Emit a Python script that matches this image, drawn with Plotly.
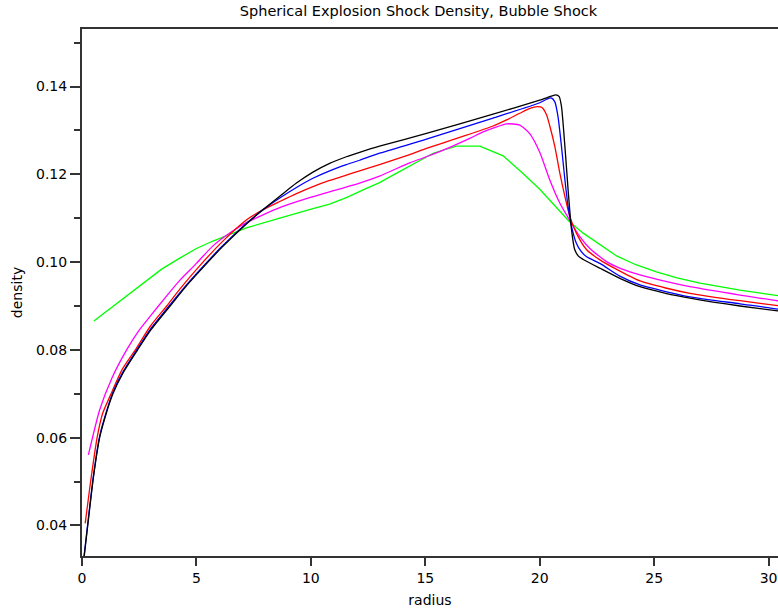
import plotly.graph_objects as go

# ---- data ----
black_x = [0.07, 0.25, 0.5, 0.77, 1.0, 1.35, 1.8, 2.43, 3.0, 3.85, 4.5, 5.08, 6.1, 7.18, 7.9, 8.64, 9.37, 10.09, 10.82, 11.55, 12.13, 13.0, 15.05, 17.96, 20.0, 20.5, 20.7, 20.85, 20.95, 21.1, 21.24, 21.39, 21.53, 21.7, 21.9, 22.63, 23.5, 24.38, 25.5, 26.56, 28.75, 30.4, 31.0]
black_y = [0.0318, 0.0400, 0.0510, 0.0600, 0.0645, 0.0700, 0.0748, 0.0800, 0.0845, 0.0900, 0.0942, 0.0976, 0.1033, 0.1087, 0.1119, 0.1150, 0.1180, 0.1205, 0.1225, 0.1240, 0.1250, 0.1264, 0.1293, 0.1337, 0.1369, 0.1378, 0.1381, 0.1377, 0.1354, 0.1263, 0.1164, 0.1073, 0.1028, 0.1013, 0.1006, 0.0986, 0.0963, 0.0944, 0.0929, 0.0918, 0.0900, 0.0889, 0.0886]

blue_x = [0.07, 0.25, 0.5, 0.77, 1.0, 1.35, 1.8, 2.43, 3.0, 3.85, 4.5, 5.08, 6.1, 7.18, 7.9, 8.64, 9.37, 10.09, 10.82, 11.55, 12.13, 13.0, 15.05, 17.96, 20.0, 20.3, 20.5, 20.66, 20.8, 20.95, 21.1, 21.24, 21.39, 21.6, 21.8, 22.05, 22.63, 23.5, 24.38, 25.5, 26.56, 28.75, 30.4, 31.0]
blue_y = [0.0321, 0.0403, 0.0513, 0.0603, 0.0648, 0.0703, 0.0751, 0.0803, 0.0848, 0.0903, 0.0944, 0.0978, 0.1035, 0.1088, 0.1119, 0.1146, 0.1170, 0.1191, 0.1208, 0.1222, 0.1232, 0.1248, 0.1280, 0.1328, 0.1363, 0.1371, 0.1374, 0.1365, 0.1331, 0.1263, 0.1187, 0.1126, 0.1081, 0.1043, 0.1025, 0.1012, 0.0997, 0.0968, 0.0948, 0.0933, 0.0921, 0.0905, 0.0893, 0.0890]

red_x = [0.14, 0.35, 0.66, 0.9, 1.27, 1.75, 2.33, 3.0, 3.7, 4.3, 5.08, 6.1, 7.18, 7.9, 8.64, 9.37, 10.09, 10.82, 11.55, 12.13, 13.0, 14.32, 15.05, 16.5, 17.96, 18.55, 19.13, 19.57, 19.9, 20.1, 20.3, 20.44, 20.66, 20.88, 21.1, 21.32, 21.6, 22.05, 22.63, 23.3, 24.38, 25.5, 26.56, 28.75, 30.4, 31.0]
red_y = [0.0405, 0.0490, 0.0600, 0.0655, 0.0700, 0.0755, 0.0800, 0.0855, 0.0900, 0.0940, 0.0988, 0.1045, 0.1096, 0.1119, 0.1138, 0.1156, 0.1172, 0.1186, 0.1198, 0.1208, 0.1222, 0.1245, 0.1259, 0.1284, 0.1310, 0.1324, 0.1339, 0.1350, 0.1354, 0.1352, 0.1335, 0.1310, 0.1263, 0.1202, 0.1149, 0.1103, 0.1066, 0.1028, 0.1005, 0.0985, 0.0957, 0.0941, 0.0929, 0.0912, 0.0901, 0.0898]

magenta_x = [0.28, 0.77, 1.3, 1.95, 2.5, 3.0, 3.62, 4.3, 5.0, 5.72, 6.5, 7.18, 8.64, 10.09, 11.55, 12.13, 13.0, 14.32, 15.05, 15.78, 16.94, 17.5, 17.96, 18.55, 19.13, 19.57, 20.0, 20.44, 20.88, 21.3, 21.75, 22.19, 22.92, 23.6, 24.38, 25.5, 26.56, 28.75, 30.4, 31.0]
magenta_y = [0.0561, 0.0663, 0.0735, 0.0800, 0.0845, 0.0878, 0.0918, 0.0960, 0.0997, 0.1037, 0.1068, 0.1090, 0.1124, 0.1149, 0.1171, 0.1180, 0.1196, 0.1226, 0.1240, 0.1255, 0.1282, 0.1296, 0.1305, 0.1315, 0.1312, 0.1292, 0.1250, 0.1187, 0.1134, 0.1096, 0.1058, 0.1031, 0.1001, 0.0984, 0.0971, 0.0956, 0.0944, 0.0925, 0.0912, 0.0909]

green_x = [0.52, 1.5, 2.5, 3.48, 4.27, 5.0, 5.72, 6.5, 7.18, 8.64, 9.07, 10.09, 10.82, 11.55, 12.26, 13.0, 13.59, 14.5, 15.34, 16.36, 17.38, 18.4, 19.27, 20.0, 20.44, 21.3, 21.9, 22.63, 23.36, 24.2, 25.1, 26.0, 27.0, 28.75, 30.4, 31.0]
green_y = [0.0866, 0.0905, 0.0945, 0.0984, 0.1009, 0.1031, 0.1048, 0.1064, 0.1078, 0.1100, 0.1107, 0.1122, 0.1132, 0.1147, 0.1164, 0.1181, 0.1198, 0.1224, 0.1248, 0.1264, 0.1264, 0.1242, 0.1202, 0.1166, 0.1141, 0.1092, 0.1066, 0.1039, 0.1014, 0.0994, 0.0978, 0.0964, 0.0952, 0.0936, 0.0923, 0.0919]

series = [
    ("green", green_x, green_y, "#00ff00", "linear"),
    ("magenta", magenta_x, magenta_y, "#ff00ff", "spline"),
    ("red", red_x, red_y, "#ff0000", "spline"),
    ("blue", blue_x, blue_y, "#0000ff", "spline"),
    ("black", black_x, black_y, "#000000", "spline"),
]

FONT = "DejaVu Sans, Verdana, sans-serif"

fig = go.Figure()
for name, xs, ys, col, shape in series:
    line = dict(color=col, width=1.3, shape=shape)
    if shape == "spline":
        line["smoothing"] = 0.6
    fig.add_trace(go.Scatter(x=xs, y=ys, mode="lines", name=name,
                             line=line, showlegend=False))

fig.update_layout(
    width=778, height=611,
    margin=dict(l=82, r=0, t=29, b=55),
    paper_bgcolor="white", plot_bgcolor="white",
    font=dict(family=FONT, size=14, color="#000"),
    title=dict(text="Spherical Explosion Shock Density, Bubble Shock",
               font=dict(family=FONT, size=14.5, color="#000"),
               x=418.5 / 778, xref="container", xanchor="center",
               y=1 - 10.5 / 611, yref="container", yanchor="middle"),
    xaxis=dict(range=[0, 30.41], tick0=0, dtick=5, ticks="outside",
               ticklen=8, tickwidth=1.5, tickcolor="#333",
               showline=True, linecolor="#333", linewidth=2, mirror=True,
               showgrid=False, zeroline=False,
               title=dict(text="radius", standoff=10,
                          font=dict(family=FONT, size=14))),
    yaxis=dict(range=[0.03305, 0.1531], tick0=0.04, dtick=0.02,
               tickformat=".2f", ticks="outside", ticklen=10,
               tickwidth=1.5, tickcolor="#333",
               minor=dict(tick0=0.03, dtick=0.01, ticks="outside",
                          ticklen=6, tickwidth=1.5, tickcolor="#333",
                          showgrid=False),
               showline=True, linecolor="#333", linewidth=2,
               showgrid=False, zeroline=False,
               title=dict(text="density", standoff=10,
                          font=dict(family=FONT, size=14))),
)

fig.write_html("out.html")
